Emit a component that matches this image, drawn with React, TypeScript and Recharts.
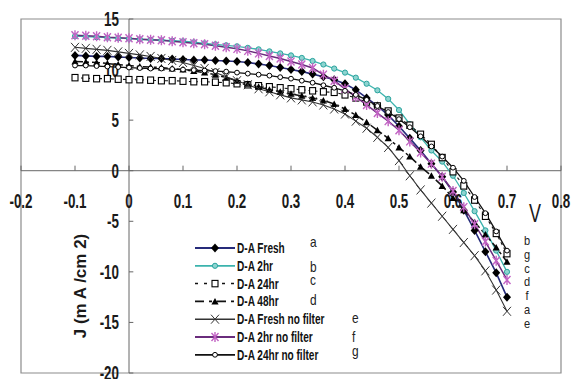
import { LineChart, Line, XAxis, YAxis, ReferenceLine, ReferenceDot, ReferenceArea, Legend } from 'recharts'

const volts = [
  -0.1, -0.08, -0.06, -0.04, -0.02, 0, 0.02, 0.04, 0.06, 0.08, 0.1, 0.12, 0.14, 0.16, 0.18, 0.2, 0.22, 0.24, 0.26, 0.28,
  0.3, 0.32, 0.34, 0.36, 0.38, 0.4, 0.42, 0.44, 0.46, 0.48, 0.5, 0.52, 0.54, 0.56, 0.58, 0.6, 0.62, 0.64, 0.66, 0.68, 0.7,
]

const fresh = [
  11.4, 11.35, 11.3, 11.3, 11.25, 11.2, 11.15, 11.1, 11.1, 11.05, 11.0, 10.95, 10.95, 10.9, 10.85, 10.8, 10.7, 10.55, 10.4, 10.2,
  10.0, 9.8, 9.55, 9.3, 9.0, 8.6, 8.0, 7.2, 6.4, 5.5, 4.4, 3.2, 2.0, 0.7, -0.6, -2.1, -3.9, -5.9, -8.0, -10.1, -12.5,
]
const twoHr = [
  13.3, 13.25, 13.2, 13.15, 13.1, 13.05, 13.0, 12.95, 12.9, 12.85, 12.8, 12.7, 12.6, 12.5, 12.4, 12.3, 12.15, 12.0, 11.8, 11.6,
  11.4, 11.15, 10.85, 10.5, 10.1, 9.7, 9.2, 8.6, 7.95, 7.1, 6.0, 4.6, 3.3, 2.0, 0.9, -0.5, -2.2, -4.0, -5.9, -7.9, -10.0,
]
const day = [
  9.2, 9.15, 9.1, 9.1, 9.05, 9.0, 9.0, 8.95, 8.9, 8.9, 8.85, 8.8, 8.8, 8.75, 8.7, 8.6, 8.5, 8.4, 8.3, 8.2,
  8.1, 8.0, 7.9, 7.8, 7.75, 7.5, 7.2, 6.8, 6.4, 5.9, 5.2, 4.5, 3.6, 2.6, 1.3, -0.1, -1.5, -2.9, -4.5, -6.2, -8.2,
]
const twoDays = [
  10.8, 10.75, 10.7, 10.6, 10.5, 10.4, 10.3, 10.25, 10.2, 10.1, 10.0, 9.85, 9.7, 9.5, 9.2, 8.9, 8.6, 8.3, 8.0, 7.8,
  7.6, 7.4, 7.2, 6.95, 6.6, 6.1, 5.5, 4.8, 4.0, 3.2, 2.3, 1.4, 0.4, -0.5, -1.5, -2.7, -3.9, -5.1, -6.3, -7.6, -9.0,
]
const freshNoFilter = [
  12.2, 12.1, 12.0, 11.9, 11.75, 11.6, 11.45, 11.3, 11.1, 10.9, 10.7, 10.4, 10.1, 9.7, 9.3, 8.9, 8.5, 8.1, 7.8, 7.5,
  7.2, 7.0, 6.8, 6.5, 6.1, 5.6, 4.9, 4.2, 3.3, 2.3, 1.0, -0.5, -1.9, -3.2, -4.5, -5.8, -7.1, -8.4, -9.9, -11.8, -13.9,
]
const twoHrNoFilter = [
  13.4, 13.35, 13.3, 13.2, 13.15, 13.1, 13.0, 12.95, 12.9, 12.8, 12.7, 12.6, 12.5, 12.35, 12.2, 12.05, 11.85, 11.6, 11.35, 11.1,
  10.8, 10.5, 10.15, 9.5, 8.9, 8.1, 7.3, 6.5, 5.7, 4.9, 4.0, 2.9, 1.8, 0.7, -0.6, -2.0, -3.6, -5.3, -7.0, -8.9, -10.8,
]
const dayNoFilter = [
  10.4, 10.4, 10.35, 10.3, 10.25, 10.2, 10.15, 10.1, 10.1, 10.05, 10.0, 9.95, 9.9, 9.85, 9.8, 9.7, 9.6, 9.5, 9.4, 9.25,
  9.1, 8.9, 8.7, 8.45, 8.2, 7.9, 7.5, 7.0, 6.4, 5.8, 5.1, 4.3, 3.4, 2.4, 1.4, 0.3, -1.0, -2.6, -4.2, -6.0, -7.9,
]

const xTicks = [-0.2, -0.1, 0, 0.1, 0.2, 0.3, 0.4, 0.5, 0.6, 0.7, 0.8]
const yTicks = [15, 10, 5, 0, -5, -10, -15, -20]
const endLetters = ['b', 'g', 'c', 'd', 'f', 'a', 'e']

type Mark = 'diamond' | 'circle' | 'square' | 'triangle' | 'cross' | 'star' | 'ring'

const series = [
  { key: 'a', name: 'D-A Fresh', values: fresh, stroke: '#262b7a', width: 1.6, dash: undefined, legendDash: undefined, mark: 'diamond' as Mark },
  { key: 'b', name: 'D-A 2hr', values: twoHr, stroke: '#3bb3ad', width: 1.3, dash: undefined, legendDash: undefined, mark: 'circle' as Mark },
  { key: 'c', name: 'D-A 24hr', values: day, stroke: '#111', width: 1.1, dash: '3 3', legendDash: '3 6', mark: 'square' as Mark },
  { key: 'd', name: 'D-A 48hr', values: twoDays, stroke: '#111', width: 1.5, dash: '8 3 3 3', legendDash: '9 5 3 5', mark: 'triangle' as Mark },
  { key: 'e', name: 'D-A Fresh no filter', values: freshNoFilter, stroke: '#333', width: 1.1, dash: undefined, legendDash: undefined, mark: 'cross' as Mark },
  { key: 'f', name: 'D-A 2hr no filter', values: twoHrNoFilter, stroke: '#6a2c7c', width: 1.5, dash: undefined, legendDash: undefined, mark: 'star' as Mark },
  { key: 'g', name: 'D-A 24hr no filter', values: dayNoFilter, stroke: '#111', width: 1.3, dash: undefined, legendDash: undefined, mark: 'ring' as Mark },
]

const data = volts.map((v, i) => {
  const row: Record<string, number> = { v }
  series.forEach((s) => { row[s.key] = s.values[i] })
  return row
})

// where the stray letters next to the legend sit (legend-box coords)
const legendLetterPos = [[120, 15], [120, 40], [120, 53], [120, 73], [162, 91], [162, 110], [162, 124]]

const font = '"Liberation Sans", Arial, sans-serif'

function Marker({ kind, x, y }: { kind: Mark; x: number; y: number }) {
  switch (kind) {
    case 'diamond':
      return <path d={`M${x},${y - 4.5}L${x + 4},${y}L${x},${y + 4.5}L${x - 4},${y}Z`} fill="#000" />
    case 'circle':
      return <circle cx={x} cy={y} r={2.6} fill="#8ed4d0" stroke="#2aa49e" strokeWidth={1} />
    case 'square':
      return <rect x={x - 3} y={y - 3.2} width={6} height={6.4} fill="#fff" stroke="#000" strokeWidth={1.1} />
    case 'triangle':
      return <path d={`M${x},${y - 3.5}L${x + 3.6},${y + 3}L${x - 3.6},${y + 3}Z`} fill="#000" />
    case 'cross':
      return <path d={`M${x - 4},${y - 4.5}L${x + 4},${y + 4.5}M${x - 4},${y + 4.5}L${x + 4},${y - 4.5}`} stroke="#333" strokeWidth={1} fill="none" />
    case 'star':
      return (
        <path
          d={`M${x - 3.5},${y - 4}L${x + 3.5},${y + 4}M${x - 3.5},${y + 4}L${x + 3.5},${y - 4}M${x},${y - 5}L${x},${y + 5}`}
          stroke="#c263c4" strokeWidth={1.4} fill="none"
        />
      )
    default:
      return <circle cx={x} cy={y} r={2.4} fill="#fff" stroke="#000" strokeWidth={1} />
  }
}

const dotFor = (kind: Mark) => (p: any) => (
  <g key={`${kind}-${p.index}`}>
    {p.cx != null && p.cy != null ? <Marker kind={kind} x={p.cx} y={p.cy} /> : null}
  </g>
)

const tickText = (text: string, dx: number, dy: number, anchor: string) => (p: any) => {
  const vb = p.viewBox || {}
  const x = (vb.x ?? 0) + (vb.width ?? 0) / 2 + dx
  const y = (vb.y ?? 0) + (vb.height ?? 0) / 2 + dy
  return (
    <text transform={`translate(${x},${y}) scale(0.67,1)`} textAnchor={anchor} fontSize={20} fontWeight="bold" fontFamily={font} fill="#1a1a1a">
      {text}
    </text>
  )
}

function LegendBox() {
  return (
    <svg width={200} height={134} style={{ display: 'block' }}>
      {series.map((s, i) => {
        const y = 16 + i * 17.8
        return (
          <g key={s.key}>
            <line x1={5} x2={45} y1={y} y2={y} stroke={s.stroke} strokeWidth={s.width + 0.4} strokeDasharray={s.legendDash} />
            <Marker kind={s.mark} x={25} y={y} />
            <text transform={`translate(47,${y + 5}) scale(0.72,1)`} fontSize={14} fontWeight="bold" fontFamily={font} fill="#111">
              {s.name}
            </text>
            <text transform={`translate(${legendLetterPos[i][0]},${legendLetterPos[i][1]}) scale(0.85,1)`} fontSize={14} fontFamily={font} fill="#222">
              {s.key}
            </text>
          </g>
        )
      })}
    </svg>
  )
}

export default function App() {
  return (
    <div style={{ position: 'absolute', left: 0, top: 0, width: 573, height: 379, background: '#fff', overflow: 'hidden' }}>
      <LineChart width={573} height={379} data={data} margin={{ top: 19, right: 12, bottom: 6, left: 21 }}>
        <XAxis type="number" dataKey="v" domain={[-0.2, 0.8]} hide />
        <YAxis type="number" domain={[-20, 15]} hide />
        <ReferenceArea x1={-0.2} x2={0.8} y1={-20} y2={15} fill="none" stroke="#8c8c8c" strokeWidth={1.2} />
        <ReferenceLine y={0} stroke="#666" strokeWidth={1} />
        <ReferenceLine x={0} stroke="#666" strokeWidth={1} />
        {xTicks.map((t) => (
          <ReferenceLine key={`xt${t}`} segment={[{ x: t, y: 0 }, { x: t, y: 0.5 }]} stroke="#666" />
        ))}
        {yTicks.map((t) => (
          <ReferenceLine key={`yt${t}`} segment={[{ x: 0, y: t }, { x: 0.008, y: t }]} stroke="#666" />
        ))}
        {xTicks.map((t) => (
          <ReferenceDot key={`xl${t}`} x={t} y={0} r={0} fill="none" stroke="none" label={tickText(String(t), 0, 37, 'middle')} />
        ))}
        {yTicks.map((t) => (
          <ReferenceDot key={`yl${t}`} x={0} y={t} r={0} fill="none" stroke="none" label={tickText(String(t), -10, 7, 'end')} />
        ))}
        {series.map((s) => (
          <Line
            key={s.key}
            type="linear"
            dataKey={s.key}
            name={s.name}
            stroke={s.stroke}
            strokeWidth={s.width}
            strokeDasharray={s.dash}
            dot={dotFor(s.mark)}
            activeDot={false}
            isAnimationActive={false}
          />
        ))}
        <Legend
          layout="vertical"
          align="center"
          verticalAlign="middle"
          content={() => <LegendBox />}
          wrapperStyle={{ position: 'absolute', left: 190, top: 232, width: 200 }}
        />
      </LineChart>
      <svg width={573} height={379} style={{ position: 'absolute', left: 0, top: 0, pointerEvents: 'none' }}>
        <text transform="translate(86,286) rotate(-90)" textAnchor="middle" fontSize={17} fontWeight="bold" fontFamily={font} fill="#1a1a1a">
          J (m A /cm 2)
        </text>
        <text transform="translate(535,222) scale(0.72,1)" textAnchor="middle" fontSize={25} fontFamily={font} fill="#1a1a1a">
          V
        </text>
        {endLetters.map((l, i) => (
          <text key={l} transform={`translate(527,${245 + i * 13.8}) scale(0.85,1)`} textAnchor="middle" fontSize={13} fontFamily={font} fill="#222">
            {l}
          </text>
        ))}
      </svg>
    </div>
  )
}
